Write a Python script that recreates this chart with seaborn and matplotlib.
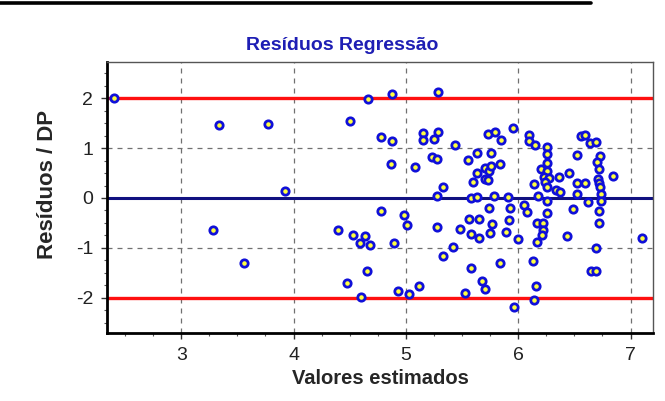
import matplotlib
matplotlib.use("Agg")
import matplotlib.pyplot as plt
from matplotlib.lines import Line2D
from matplotlib.ticker import MultipleLocator
import pandas as pd
import seaborn as sns

# Fitted values (x) and standardized residuals (y)
fitted = [
    2.40, 3.34, 3.77, 3.28, 3.56, 3.92,
    4.50, 4.66, 4.88, 5.29, 4.78, 4.88, 5.15, 5.15, 5.25, 5.29, 5.44, 5.73,
    5.79, 5.85, 5.95, 4.87, 5.08, 5.23, 5.28, 5.55, 5.63, 5.76, 5.84, 5.70,
    5.74, 5.76, 5.63, 5.70, 5.73, 5.60, 5.33, 5.28, 5.58, 5.63, 5.78, 5.91,
    4.78, 4.98, 5.01, 4.40, 4.53, 4.64, 4.59, 4.68, 4.89, 4.65, 4.48, 4.60,
    4.93, 5.03, 5.12, 5.33, 5.42, 5.28, 5.56, 5.65, 5.74, 5.48, 5.58, 5.65,
    5.75, 5.77, 5.84, 5.58, 5.68, 5.70, 5.53,
    6.10, 6.10, 6.15, 6.26, 6.26, 6.56, 6.59, 6.64, 6.69, 6.52, 6.73, 6.20,
    6.26, 6.26, 6.23, 6.27, 6.36, 6.45, 6.70, 6.72, 6.14, 6.24, 6.26, 6.34,
    6.37, 6.52, 6.59, 6.71, 6.72, 6.73, 6.84, 6.18, 6.26, 6.52, 6.62, 6.74,
    6.74, 6.05, 6.08, 5.93, 6.26, 6.49, 6.72, 6.72, 5.92, 6.17, 6.22, 6.22,
    6.21, 6.17, 5.89, 6.00, 6.43, 7.10, 6.69, 6.13, 6.65, 6.69, 6.16, 6.14,
    5.96,
]
residuals = [
    2.00, 1.46, 1.48, -0.64, -1.30, 0.14,
    1.54, 1.98, 2.08, 2.12, 1.22, 1.14, 1.30, 1.16, 1.18, 1.32, 1.06, 1.28,
    1.32, 1.16, 1.40, 0.68, 0.62, 0.82, 0.78, 0.76, 0.90, 0.90, 0.68, 0.60,
    0.54, 0.64, 0.50, 0.38, 0.36, 0.32, 0.22, 0.04, 0.00, 0.02, 0.04, 0.02,
    -0.26, -0.34, -0.54, -0.64, -0.74, -0.76, -0.90, -0.94, -0.90, -1.46, -1.70, -1.98,
    -1.86, -1.92, -1.76, -1.16, -0.98, -0.58, -0.42, -0.42, -0.20, -0.62, -0.72, -0.80,
    -0.70, -0.52, -1.30, -1.40, -1.66, -1.82, -1.90,
    1.26, 1.14, 1.06, 1.02, 0.88, 1.24, 1.26, 1.10, 1.12, 0.86, 0.84, 0.58,
    0.70, 0.54, 0.42, 0.40, 0.42, 0.50, 0.72, 0.58, 0.28, 0.32, 0.22, 0.16,
    0.12, 0.30, 0.30, 0.38, 0.30, 0.22, 0.44, 0.04, -0.06, 0.08, -0.08, 0.08,
    -0.06, -0.14, -0.28, -0.20, -0.30, -0.22, -0.26, -0.50, -0.44, -0.50, -0.50, -0.64,
    -0.74, -0.88, -0.68, -0.82, -0.76, -0.80, -1.00, -1.26, -1.46, -1.46, -1.76, -2.04,
    -2.18,
]

limit_lines = [2, -2]
center_line = 0
x_ticks = [3, 4, 5, 6, 7]
y_ticks = [-2, -1, 0, 1, 2]

title = "Resíduos Regressão"
x_label = "Valores estimados"
y_label = "Resíduos / DP"

df = pd.DataFrame({"estimado": fitted, "residuo": residuals})

sns.set_style("white")
plt.rcParams["font.family"] = ["Liberation Sans", "DejaVu Sans"]
plt.rcParams["axes.unicode_minus"] = False

fig = plt.figure(figsize=(6.65, 4.01), dpi=100)
ax = fig.add_axes([0.161, 0.170, 0.821, 0.675])

# Dashed grid
ax.set_xticks(x_ticks)
ax.set_yticks(y_ticks)
ax.grid(True, which="major", linestyle=(0, (4, 4)), color="#707070", linewidth=0.9)
ax.set_axisbelow(True)

# Reference lines
for yv in limit_lines:
    ax.axhline(yv, color="#ff1010", linewidth=2.4, zorder=2)
ax.axhline(center_line, color="#101080", linewidth=2.2, zorder=2)

sns.scatterplot(
    data=df, x="estimado", y="residuo", ax=ax,
    marker="o", s=28, color="#ffff40", edgecolor="#1010d8",
    linewidth=2.0, zorder=3, legend=False,
)

ax.set_xlim(2.34, 7.20)
ax.set_ylim(-2.70, 2.72)
ax.xaxis.set_minor_locator(MultipleLocator(0.25))
ax.yaxis.set_minor_locator(MultipleLocator(0.25))
ax.tick_params(axis="both", which="major", direction="out", length=4,
               width=1, color="#333333", labelsize=14, pad=6)
ax.tick_params(axis="both", which="minor", direction="out", length=2,
               width=0.8, color="#555555")
ax.tick_params(axis="x", which="both", bottom=True)
ax.tick_params(axis="y", which="both", left=True)
for lab in ax.get_xticklabels() + ax.get_yticklabels():
    lab.set_color("#222222")

for side in ("left", "bottom"):
    ax.spines[side].set_color("black")
    ax.spines[side].set_linewidth(2.0)
for side in ("top", "right"):
    ax.spines[side].set_color("#555555")
    ax.spines[side].set_linewidth(1.0)

ax.set_xlabel(x_label, fontsize=14.5, fontweight="bold", labelpad=4)
ax.set_ylabel(y_label, fontsize=16, fontweight="bold")
ax.yaxis.set_label_coords(-0.089, 0.55)
ax.set_title(title, fontsize=14, fontweight="bold", color="#1e1eb4",
             x=0.43, pad=9)

# Underline of the page heading above the chart
fig.add_artist(Line2D([0.0, 0.889], [0.9925, 0.9925], color="black",
                      linewidth=2.6, transform=fig.transFigure))

fig.savefig("out.png", dpi=100, facecolor="white")
